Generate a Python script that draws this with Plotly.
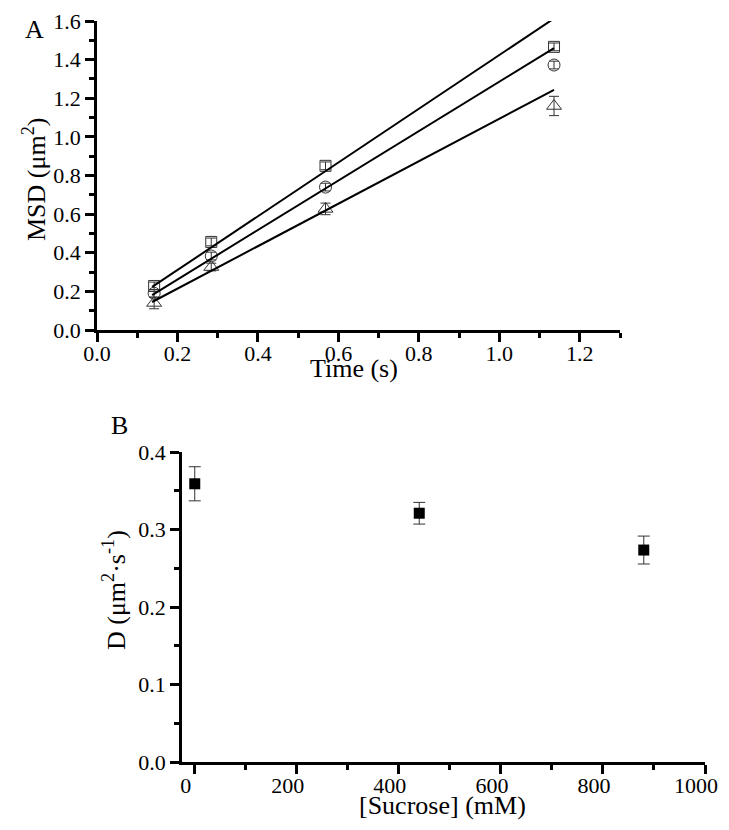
import plotly.graph_objects as go

# panel A: MSD vs time
time_s = [0.142, 0.284, 0.568, 1.136]
msd_sq = [0.228, 0.456, 0.850, 1.466]
msd_ci = [0.190, 0.383, 0.740, 1.372]
msd_tr = [0.140, 0.326, 0.627, 1.160]
err_sq = [0.02, 0.02, 0.02, 0.02]
err_ci = [0.02, 0.02, 0.02, 0.02]
err_tr = [0.03, 0.02, 0.03, 0.05]

# fitted lines (end points)
fit_x = [0.137, 1.136]
fit_sq = [0.223, 1.613]
fit_ci = [0.181, 1.460]
fit_tr = [0.145, 1.243]

# panel B: D vs sucrose
sucrose = [0, 440, 880]
diff_d = [0.359, 0.321, 0.2735]
diff_err = [0.022, 0.014, 0.018]

FONT = "Liberation Serif"
# page body has an 8px margin, so the figure is a bit smaller than the window
OFF = 8
W, H = 729 - 2 * OFF, 830 - 2 * OFF


def fx(px):
    return (px - OFF) / W


def fy(py):
    return 1 - (py - OFF) / H


fig = go.Figure()

for y, e, sym, sz in [(msd_sq, err_sq, "square-open", 11), (msd_ci, err_ci, "circle-open", 12),
                      (msd_tr, err_tr, "triangle-up-open", 13)]:
    fig.add_trace(go.Scatter(x=time_s, y=y, mode="markers", xaxis="x", yaxis="y",
                             marker=dict(symbol=sym, size=sz, color="#333",
                                         line=dict(width=1, color="#333")),
                             error_y=dict(type="data", array=e, color="#333",
                                          thickness=1, width=5),
                             showlegend=False))

for fl in [fit_sq, fit_ci, fit_tr]:
    fig.add_trace(go.Scatter(x=fit_x, y=fl, mode="lines", xaxis="x", yaxis="y",
                             line=dict(color="black", width=2), showlegend=False))

fig.add_trace(go.Scatter(x=sucrose, y=diff_d, mode="markers", xaxis="x2", yaxis="y2",
                         marker=dict(symbol="square", size=11, color="black"),
                         error_y=dict(type="data", array=diff_err, color="#333",
                                      thickness=1, width=6),
                         showlegend=False))

ax = dict(showline=True, linewidth=2.5, linecolor="black", ticks="outside",
          ticklen=9, tickwidth=2.5, tickcolor="black", showgrid=False,
          zeroline=False, automargin=False,
          tickfont=dict(family=FONT, size=22, color="black"))
mn = dict(ticks="outside", ticklen=5, tickwidth=2.5, tickcolor="black")

fig.update_layout(
    width=W, height=H, margin=dict(l=0, r=0, t=0, b=0, autoexpand=False),
    plot_bgcolor="white", paper_bgcolor="white",
    xaxis=dict(ax, domain=[fx(97), fx(620)], anchor="y", range=[0, 1.3], dtick=0.2,
               tickformat=".1f", ticklabelstandoff=-7, minor=dict(mn, dtick=0.1)),
    yaxis=dict(ax, domain=[fy(330), fy(21)], anchor="x", range=[0, 1.6],
               dtick=0.2, tickformat=".1f", minor=dict(mn, dtick=0.1)),
    xaxis2=dict(ax, domain=[fx(182), fx(705)], anchor="y2", range=[-25, 1000], dtick=200,
                ticklabelshift=-9, ticklabelstandoff=-7, minor=dict(mn, dtick=100)),
    yaxis2=dict(ax, domain=[fy(762), fy(452)], anchor="x2", range=[0, 0.4],
                dtick=0.1, tickformat=".1f", minor=dict(mn, dtick=0.05)),
)


def note(text, x, y, size=26, angle=0):
    fig.add_annotation(text=text, x=fx(x), y=fy(y), xref="paper", yref="paper",
                       xanchor="center", yanchor="middle",
                       showarrow=False, textangle=angle,
                       font=dict(family=FONT, size=size, color="black"))


note("A", 34, 30)
note("B", 119, 425)
note("MSD (μm<sup>2</sup>)", 35, 180, 26, -90)
note("Time (s)", 354, 368)
note("D (μm<sup>2</sup>·s<sup>-1</sup>)", 114, 590, 26, -90)
note("[Sucrose] (mM)", 443, 805)

fig.write_html("out.html")
